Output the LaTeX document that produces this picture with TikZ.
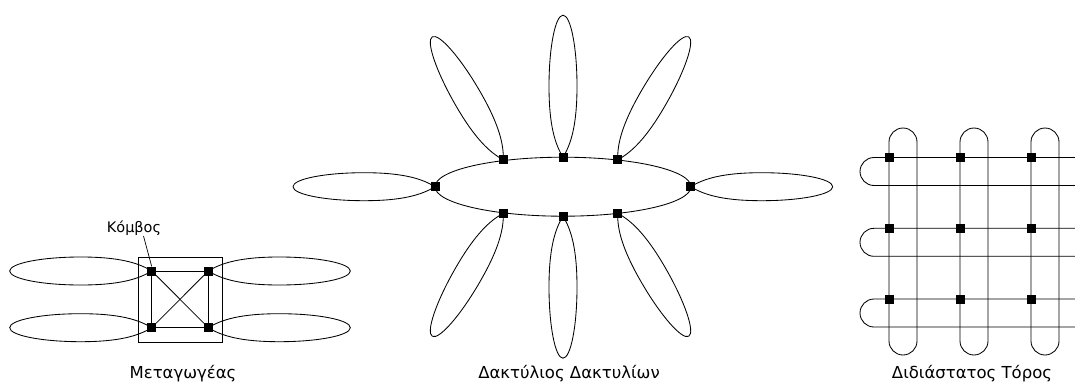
\documentclass[tikz,border=0pt]{standalone}
\usepackage{fontspec}
\setmainfont{DejaVu Sans}
\usetikzlibrary{shapes.geometric}
\begin{document}
\begin{tikzpicture}[x=1pt,y=1pt, line width=0.85pt,
  nd/.style={rectangle, fill=black, draw=none, minimum size=9pt, inner sep=0pt, outer sep=0pt},
  lbl/.style={font=\fontsize{16.5}{19}\selectfont, inner sep=0pt, anchor=base},
  small/.style={font=\fontsize{14.5}{17}\selectfont, inner sep=0pt, anchor=base},
  petal/.pic={\draw (0,0) .. controls (13,8) and (32,14) .. (71,14)
      .. controls (110,14) and (142,7.7) .. (142,0)
      .. controls (142,-7.7) and (110,-14) .. (71,-14)
      .. controls (32,-14) and (13,-8) .. (0,0) -- cycle;}]
\useasboundingbox (0,0) rectangle (1075,-383);

% ---------- Switch ----------
\node[draw, minimum width=84pt, minimum height=85pt, inner sep=0pt] (box) at (180,-299.5) {};
\node[nd] (s1) at (151.7,-271) {};
\node[nd] (s2) at (208.3,-271) {};
\node[nd] (s3) at (151.7,-327.7) {};
\node[nd] (s4) at (208.3,-327.7) {};
\path (s1.center) pic[rotate=180] {petal};
\path (s3.center) pic[rotate=180] {petal};
\path (s2.center) pic {petal};
\path (s4.center) pic {petal};
\draw (s1) -- (s2);
\draw (s3) -- (s4);
\draw (s1) -- (s3);
\draw (s2) -- (s4);
\draw (s1) -- (s4);
\draw (s2) -- (s3);
\node[small] (kombos) at (134,-232.7) {Κόμβος};
\coordinate (lead) at (143.5,-236);
\draw[line width=0.7pt] (lead) -- (s1.north);
\node[lbl] (lab1) at (183,-378.3) {Μεταγωγέας};

% ---------- Ring of rings ----------
\node[draw, ellipse, minimum width=256pt, minimum height=59pt, inner sep=0pt] (ring) at (563,-186.7) {};
\node[nd] (r1) at (435,-186.7) {};
\node[nd] (r2) at (503.3,-159.8) {};
\node[nd] (r3) at (563,-157.2) {};
\node[nd] (r4) at (617.7,-159.8) {};
\node[nd] (r5) at (690.7,-186.7) {};
\node[nd] (r6) at (617.7,-213.3) {};
\node[nd] (r7) at (563,-216.2) {};
\node[nd] (r8) at (503.3,-213.3) {};
\path (r1.center) pic[rotate=180] {petal};
\path (r2.center) pic[rotate=120] {petal};
\path (r3.center) pic[rotate=90] {petal};
\path (r4.center) pic[rotate=60] {petal};
\path (r5.center) pic {petal};
\path (r6.center) pic[rotate=-60] {petal};
\path (r7.center) pic[rotate=-90] {petal};
\path (r8.center) pic[rotate=-120] {petal};
\node[lbl] (lab2) at (569,-378.3) {Δακτύλιος Δακτυλίων};

% ---------- 2D torus ----------
\foreach \x in {889,960,1031} {
  \draw (\x,-142) -- (\x,-341) arc[start angle=180, end angle=360, radius=14]
        -- (\x+28,-142) arc[start angle=0, end angle=180, radius=14] -- cycle;
}
\foreach \y in {157.5,228.3,299} {
  \draw (1075,-\y) -- (874,-\y) arc[start angle=90, end angle=270, radius=14] -- (1075,-\y-28);
}
\foreach \y [count=\i] in {157.5,228.3,299} {
  \foreach \x [count=\j] in {889,960,1031} {
    \node[nd] (t\i\j) at (\x,-\y) {};
  }
}
\node[lbl] (lab3) at (972,-378.3) {Διδιάστατος Τόρος};
\end{tikzpicture}
\end{document}
